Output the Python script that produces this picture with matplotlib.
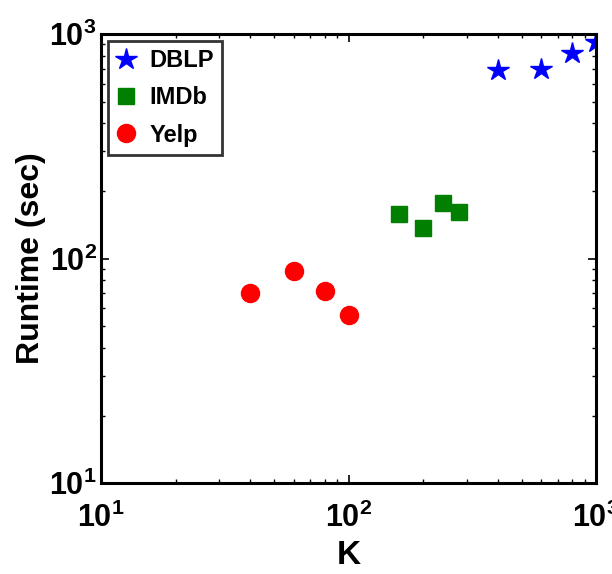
import matplotlib
matplotlib.use("Agg")
import matplotlib.pyplot as plt

# runtime vs K
dblp_k = [400, 600, 800, 1000]
dblp_t = [692, 695, 823, 921]
imdb_k = [160, 200, 240, 280]
imdb_t = [158, 137, 177, 162]
yelp_k = [40, 60, 80, 100]
yelp_t = [70, 88, 72, 56]

plt.rcParams["font.family"] = ["Liberation Sans", "DejaVu Sans"]
plt.rcParams["font.weight"] = "bold"
plt.rcParams["mathtext.fontset"] = "custom"
plt.rcParams["mathtext.rm"] = "Liberation Sans:bold"
plt.rcParams["mathtext.it"] = "Liberation Sans:bold"
plt.rcParams["mathtext.bf"] = "Liberation Sans:bold"

fig = plt.figure(figsize=(6.12, 5.74), dpi=100)
ax = fig.add_axes([0.165, 0.158, 0.809, 0.783])

ax.plot(dblp_k, dblp_t, linestyle="none", marker="*", color="#0000ff",
        markersize=16, label="DBLP")
ax.plot(imdb_k, imdb_t, linestyle="none", marker="s", color="#007f00",
        markersize=11, label="IMDb")
ax.plot(yelp_k, yelp_t, linestyle="none", marker="o", color="#ff0000",
        markersize=13, label="Yelp")

ax.set_xscale("log")
ax.set_yscale("log")
ax.set_xlim(10, 1000)
ax.set_ylim(10, 1000)

ax.set_xlabel("K", fontsize=24, fontweight="bold", labelpad=4)
ax.set_ylabel("Runtime (sec)", fontsize=23, fontweight="bold", labelpad=2)

ax.tick_params(which="both", direction="in", top=True, right=True,
               labelsize=22)
ax.tick_params(axis="x", which="major", pad=14)
ax.tick_params(axis="y", which="major", pad=3)
ax.tick_params(which="major", length=6, width=1.2)
ax.tick_params(which="minor", length=3, width=1)
for sp in ax.spines.values():
    sp.set_linewidth(2.2)

leg = ax.legend(loc="upper left", fontsize=17, frameon=True, fancybox=False,
                handlelength=0.8, handletextpad=0.6, borderpad=0.35,
                labelspacing=0.6, borderaxespad=0.3)
leg.get_frame().set_edgecolor("black")
leg.get_frame().set_linewidth(2)
for t in leg.get_texts():
    t.set_fontweight("bold")

fig.savefig("out.png", dpi=100)
